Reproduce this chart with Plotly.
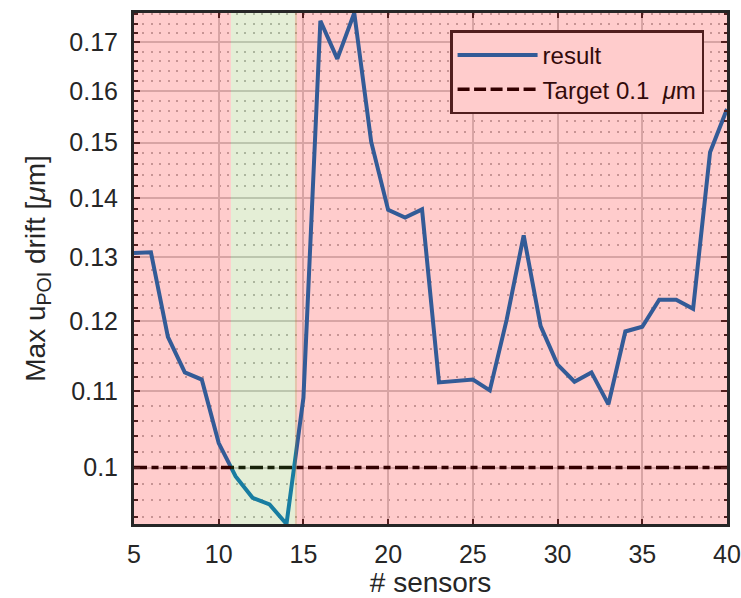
import numpy as np
import plotly.graph_objects as go

# ---- data ----
sensors = list(range(5, 41))
drift = [0.1307, 0.1308, 0.1177, 0.1126, 0.1116, 0.1031, 0.0989, 0.0963, 0.0955,
         0.0932, 0.1091, 0.1746, 0.1665, 0.1763, 0.1501, 0.1379, 0.1366, 0.1380,
         0.1112, 0.1114, 0.1116, 0.1101, 0.1203, 0.1336, 0.1193, 0.1137, 0.1113,
         0.1126, 0.1082, 0.1185, 0.1192, 0.1233, 0.1233, 0.1219, 0.1482, 0.1564]
target = 0.1
green_bands = [[10.72, 14.62]]
red_bands = [[5, 10.72], [14.5, 40]]
y_major = [0.1, 0.11, 0.12, 0.13, 0.14, 0.15, 0.16, 0.17]
y_major_text = ["0.1", "0.11", "0.12", "0.13", "0.14", "0.15", "0.16", "0.17"]
y_minor = [round(0.092 + 0.002 * i, 3) for i in range(45)]
y_minor = [v for v in y_minor if all(abs(v - m) > 1e-6 for m in y_major)]

FONT = "Liberation Sans, Arial, Helvetica, sans-serif"
AX = "#262626"

fig = go.Figure()
fig.add_trace(go.Scatter(x=sensors, y=drift, mode="lines",
                         line=dict(color="#0072BD", width=4), showlegend=False))
fig.add_trace(go.Scatter(x=[sensors[0], sensors[-1]], y=[target, target], mode="lines",
                         line=dict(color="black", width=3.5, dash="13px,4.5px,7px,4.5px"),
                         showlegend=False))
# legend entries (colours as seen through the translucent overlay)
fig.add_trace(go.Scatter(x=[None], y=[None], mode="lines", name="result",
                         line=dict(color="rgb(51,91,151)", width=4)))
fig.add_trace(go.Scatter(x=[None], y=[None], mode="lines",
                         name="Target 0.1\u00a0\u00a0<i>\u03bc</i>m",
                         line=dict(color="rgb(51,0,0)", width=3.5, dash="12px,4.5px")))

shapes = []
for a, b in red_bands:
    shapes.append(dict(type="rect", xref="x", yref="y domain", x0=a, x1=b, y0=0, y1=1,
                       fillcolor="rgba(255,0,0,0.2)", line=dict(width=0), layer="above"))
for a, b in green_bands:
    shapes.append(dict(type="rect", xref="x", yref="y domain", x0=a, x1=b, y0=0, y1=1,
                       fillcolor="rgba(119,172,48,0.2)", line=dict(width=0), layer="above"))

fig.update_layout(
    width=741, height=598,
    margin=dict(l=134, r=14, t=13, b=74),
    paper_bgcolor="white", plot_bgcolor="white",
    font=dict(family=FONT, color=AX, size=25),
    shapes=shapes,
    legend=dict(x=0.533, y=0.966, xanchor="left", yanchor="top",
                bgcolor="rgb(255,204,204)", bordercolor="rgb(81,30,30)", borderwidth=2.5,
                font=dict(size=24, color="rgb(51,10,10)"), tracegroupgap=0,
                itemwidth=80),
)
fig.update_xaxes(
    range=[5, 40], tick0=5, dtick=5, ticks="inside", ticklen=5, tickwidth=2, tickcolor=AX,
    showline=True, linewidth=3, linecolor=AX, mirror="ticks", zeroline=False,
    showgrid=True, gridcolor="rgb(205,205,205)", gridwidth=2, automargin=False,
    tickfont=dict(size=25, color=AX), ticklabelstandoff=6,
    title=dict(text="# sensors", font=dict(size=28, color=AX), standoff=6),
)
fig.update_yaxes(
    type="log", range=[np.log10(min(drift)), np.log10(max(drift))],
    tickmode="array", tickvals=y_major, ticktext=y_major_text,
    ticks="inside", ticklen=6, tickwidth=2, tickcolor=AX,
    showline=True, linewidth=3, linecolor=AX, mirror="ticks", zeroline=False,
    showgrid=True, gridcolor="rgb(205,205,205)", gridwidth=2, automargin=False,
    minor=dict(tickmode="array", tickvals=y_minor, ticks="inside", ticklen=3.5,
               tickwidth=2, tickcolor=AX, showgrid=True, gridcolor="rgb(185,185,185)",
               gridwidth=2, griddash="2px,6.47px"),
    tickfont=dict(size=25, color=AX), ticklabelstandoff=8,
    title=dict(text="Max u<sub>POI</sub> drift [<i>\u03bc</i>m]", font=dict(size=28, color=AX),
               standoff=16),
)
fig.write_html("out.html")
